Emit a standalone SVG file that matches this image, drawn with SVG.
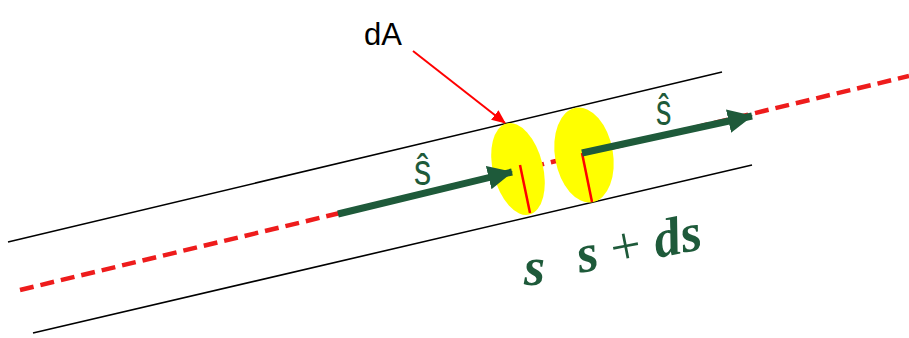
<svg xmlns="http://www.w3.org/2000/svg" width="909" height="338" viewBox="0 0 909 338">
<style>
.wall{stroke:#000;stroke-width:1.6;fill:none}
.axis{stroke:#ee1c1c;stroke-width:4.5;stroke-dasharray:14 7;fill:none}
.disk{fill:#ffff00}
.norm{stroke:#ff0000;stroke-width:2.5}
.vec{stroke:#1e5a3a;stroke-width:7;fill:none}
.lbl{fill:#1e5a3a;font-family:"Liberation Sans",Arial,sans-serif;font-size:44px}
.math{fill:#1e5a3a;font-family:"Liberation Serif","DejaVu Serif",serif;font-weight:bold;font-style:italic;font-size:54px}
</style>
<defs>
<marker id="gh" markerUnits="userSpaceOnUse" markerWidth="30" markerHeight="30" refX="24" refY="12" orient="auto">
<path d="M0,0 L25,12 L0,24 Z" fill="#1e5a3a"/>
</marker>
<marker id="rh" markerUnits="userSpaceOnUse" markerWidth="16" markerHeight="16" refX="13" refY="6" orient="auto">
<path d="M0,0 L14,6 L0,12 Z" fill="#ff0000"/>
</marker>
</defs>
<g id="tube">
<line class="wall" x1="8" y1="242" x2="722" y2="72"/>
<line class="wall" x1="33" y1="333" x2="752" y2="165"/>
</g>
<g id="axis">
<line class="axis" x1="20" y1="290" x2="909" y2="76"/>
</g>
<g id="disk1">
<ellipse class="disk" cx="518" cy="169" rx="25" ry="47" transform="rotate(-14 518 169)"/>
<line class="norm" x1="520" y1="165" x2="530" y2="213"/>
</g>
<g id="disk2">
<ellipse class="disk" cx="584" cy="155" rx="29" ry="48" transform="rotate(-10 584 155)"/>
<line class="norm" x1="582" y1="153" x2="592" y2="202"/>
</g>
<g id="connectors">
<line class="vec" x1="338" y1="214" x2="512" y2="172" marker-end="url(#gh)"/>
<line class="vec" x1="582" y1="153" x2="752" y2="116" marker-end="url(#gh)"/>
<line stroke="#ff0000" stroke-width="2" x1="413" y1="51" x2="505" y2="123" marker-end="url(#rh)"/>
</g>
<g id="labels">
<text x="364" y="45" font-family="Liberation Sans,Arial,sans-serif" font-size="31" fill="#000">dA</text>
<text class="lbl" transform="translate(414 185) scale(0.78 1)">ŝ</text>
<text class="lbl" transform="translate(656 125) scale(0.7 1)">ŝ</text>
<text class="math" x="524" y="285">s</text>
<text class="math" x="580" y="273" transform="rotate(-11 580 273)">s <tspan font-weight="normal" font-style="normal">+</tspan> ds</text>
</g>
</svg>
